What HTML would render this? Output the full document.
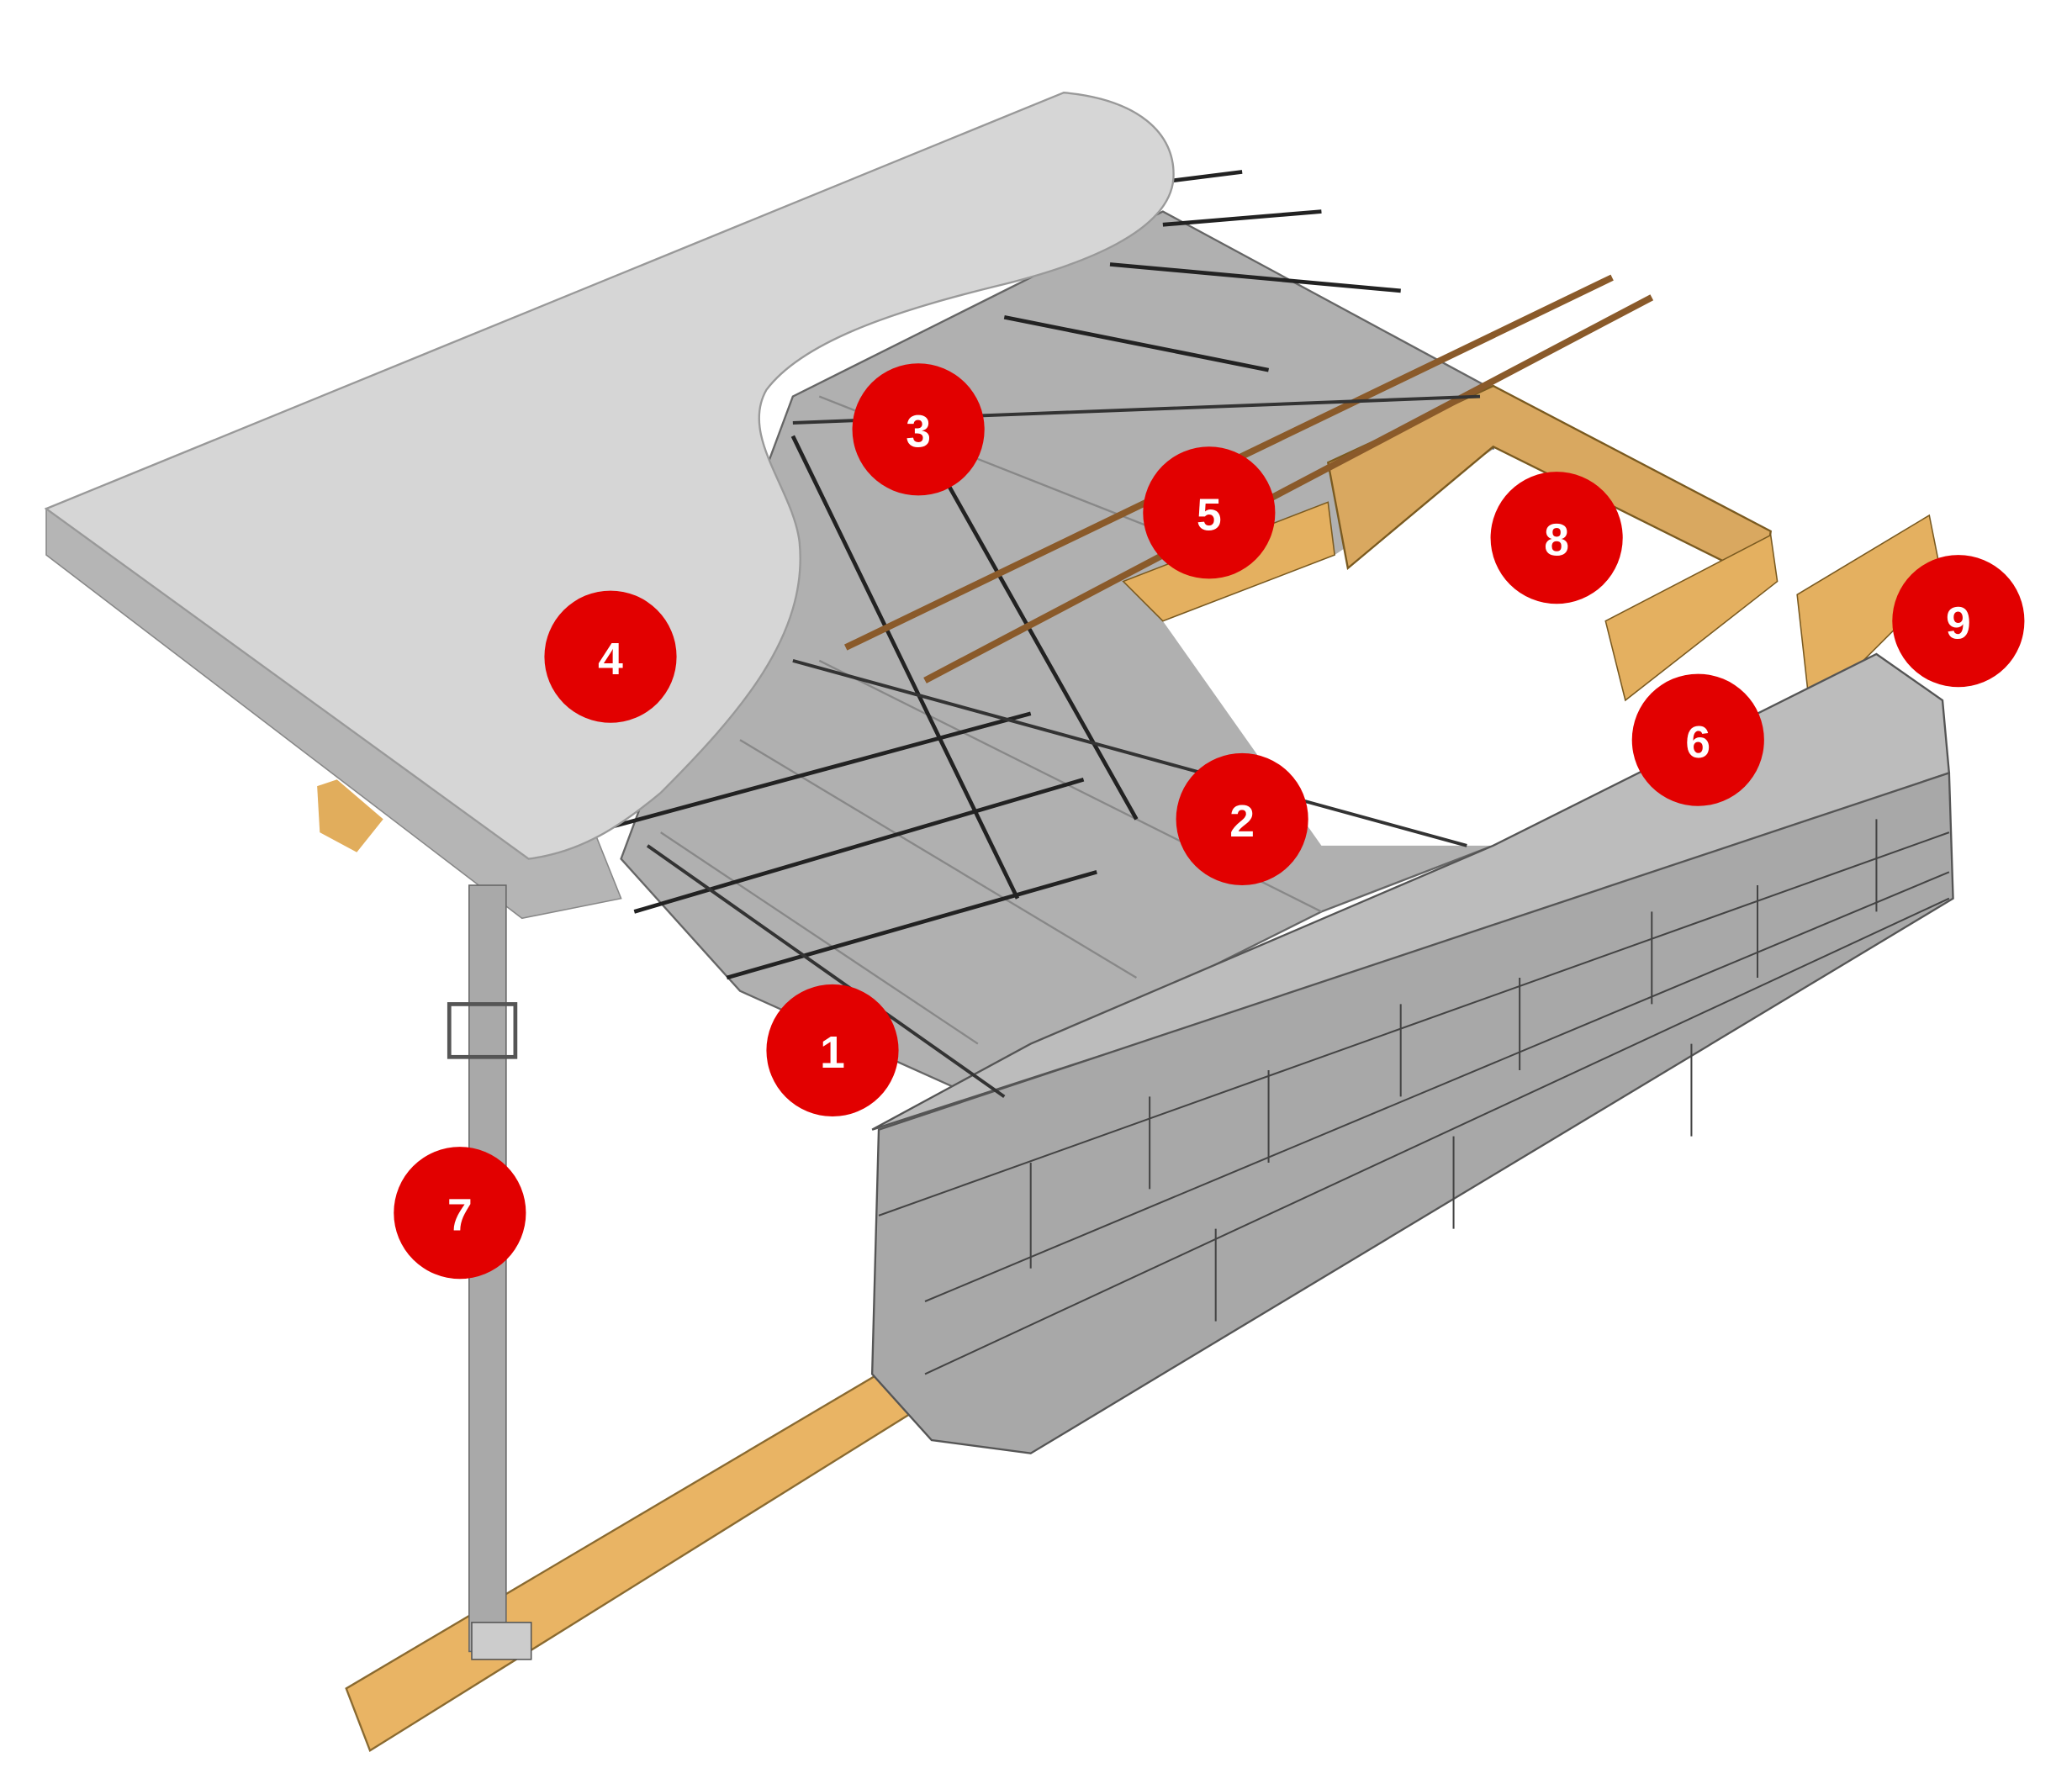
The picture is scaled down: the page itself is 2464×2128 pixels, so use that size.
<!DOCTYPE html>
<html><head><meta charset="utf-8"><style>
html,body{margin:0;padding:0;background:#fff;width:2464px;height:2128px;overflow:hidden}
svg{display:block}
text{font-family:"Liberation Sans",sans-serif;font-weight:bold;fill:#fff;font-size:34px;text-anchor:middle;dominant-baseline:central}
</style></head><body>
<svg width="2464" height="2128" viewBox="0 0 1568 1354" xmlns="http://www.w3.org/2000/svg">
<polygon points="262,1278 690,1025 705,1060 280,1325" fill="#e9b464" stroke="#8a6a30" stroke-width="1.5"/>
<polygon points="470,650 600,300 880,160 1130,295 1130,640 1000,690 820,780 760,840 560,750" fill="#b0b0b0" stroke="#666" stroke-width="1.5"/>
<g stroke="#888" stroke-width="1.5" fill="none">
<line x1="500" y1="630" x2="740" y2="790"/><line x1="560" y1="560" x2="860" y2="740"/>
<line x1="620" y1="500" x2="1000" y2="690"/><line x1="620" y1="300" x2="1000" y2="450"/>
</g>
<polygon points="880,470 1010,420 1130,340 1335,440 1230,560 1130,640 1000,640" fill="#fff"/>
<polygon points="1005,350 1130,292 1340,402 1335,440 1130,338 1020,430" fill="#d9a860" stroke="#7a5a20" stroke-width="1.5"/>
<polygon points="850,440 1005,380 1010,420 880,470" fill="#e4b060" stroke="#7a5a20"/>
<polygon points="1215,470 1340,405 1345,440 1230,530" fill="#e4b060" stroke="#7a5a20"/>
<polygon points="1360,450 1460,390 1470,440 1370,540" fill="#e4b060" stroke="#7a5a20"/>
<polygon points="660,855 780,790 1130,640 1420,495 1470,530 1475,585 1000,745" fill="#bcbcbc" stroke="#555" stroke-width="1.5"/>
<polygon points="665,855 1475,585 1478,680 780,1100 705,1090 660,1040" fill="#a8a8a8" stroke="#555" stroke-width="1.5"/>
<g stroke="#444" stroke-width="1.3" fill="none">
<line x1="665" y1="920" x2="1475" y2="630"/>
<line x1="700" y1="985" x2="1475" y2="660"/>
<line x1="700" y1="1040" x2="1475" y2="680"/>
<line x1="870" y1="830" x2="870" y2="900"/><line x1="1060" y1="760" x2="1060" y2="830"/><line x1="1250" y1="690" x2="1250" y2="760"/><line x1="1420" y1="620" x2="1420" y2="690"/>
<line x1="780" y1="880" x2="780" y2="960"/><line x1="960" y1="810" x2="960" y2="880"/><line x1="1150" y1="740" x2="1150" y2="810"/><line x1="1330" y1="670" x2="1330" y2="740"/>
<line x1="920" y1="930" x2="920" y2="1000"/><line x1="1100" y1="860" x2="1100" y2="930"/><line x1="1280" y1="790" x2="1280" y2="860"/>
</g>
<g stroke="#222" stroke-width="3">
<line x1="410" y1="640" x2="780" y2="540"/><line x1="480" y1="690" x2="820" y2="590"/><line x1="550" y1="740" x2="830" y2="660"/>
<line x1="600" y1="330" x2="770" y2="680"/><line x1="680" y1="300" x2="860" y2="620"/>
<line x1="760" y1="240" x2="960" y2="280"/><line x1="840" y1="200" x2="1060" y2="220"/><line x1="880" y1="170" x2="1000" y2="160"/>
<line x1="860" y1="140" x2="940" y2="130"/>
</g>
<g stroke="#8a5a2a" stroke-width="5"><line x1="640" y1="490" x2="1220" y2="210"/><line x1="700" y1="515" x2="1250" y2="225"/></g>
<g stroke="#333" stroke-width="2.5"><line x1="490" y1="640" x2="760" y2="830"/><line x1="600" y1="500" x2="1110" y2="640"/><line x1="600" y1="320" x2="1120" y2="300"/></g>
<polygon points="35,385 35,420 395,695 470,680 450,630 400,650" fill="#b5b5b5" stroke="#888"/>
<path d="M35,385 L805,70 C860,75 890,100 888,135 C885,175 820,200 760,215 C690,232 610,255 580,295 C560,330 600,370 605,410 C612,480 560,540 500,600 C470,625 440,645 400,650 Z" fill="#d6d6d6" stroke="#999" stroke-width="1.5"/>
<polygon points="240,595 255,590 290,620 270,645 242,630" fill="#e1ad5c"/>
<rect x="355" y="670" width="28" height="580" fill="#a9a9a9" stroke="#666"/>
<rect x="340" y="760" width="50" height="40" fill="none" stroke="#555" stroke-width="3"/>
<rect x="357" y="1228" width="45" height="28" fill="#ccc" stroke="#555"/>
<g fill="#e20000">
<circle cx="630" cy="795" r="50"/><circle cx="940" cy="620" r="50"/><circle cx="695" cy="325" r="50"/>
<circle cx="462" cy="497" r="50"/><circle cx="915" cy="388" r="50"/><circle cx="1285" cy="560" r="50"/>
<circle cx="348" cy="918" r="50"/><circle cx="1178" cy="407" r="50"/><circle cx="1482" cy="470" r="50"/>
</g>
<text x="630" y="797">1</text><text x="940" y="622">2</text><text x="695" y="327">3</text>
<text x="462" y="499">4</text><text x="915" y="390">5</text><text x="1285" y="562">6</text>
<text x="348" y="920">7</text><text x="1178" y="409">8</text><text x="1482" y="472">9</text>
</svg>
</body></html>
